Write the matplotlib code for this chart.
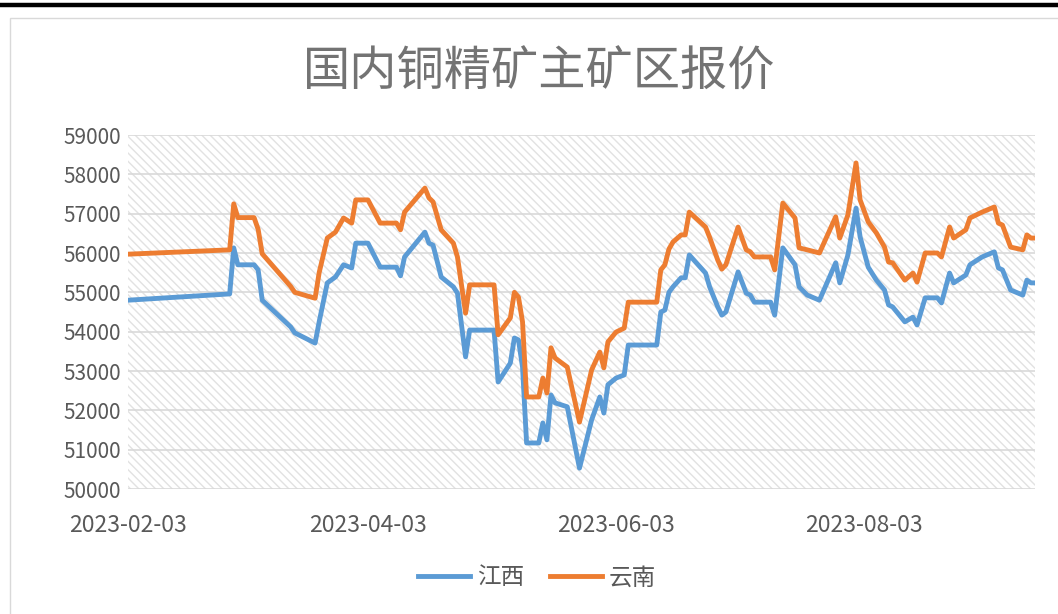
import matplotlib
matplotlib.use("Agg")
import matplotlib.pyplot as plt
import matplotlib.dates as mdates
import pandas as pd
from matplotlib.lines import Line2D
from matplotlib.patches import Rectangle

plt.rcParams['font.family'] = ['Noto Sans CJK SC', 'DejaVu Sans']
plt.rcParams['hatch.linewidth'] = 1.0

dates = ["2023-02-03", "2023-02-28", "2023-03-01", "2023-03-02", "2023-03-06", "2023-03-07",
         "2023-03-08", "2023-03-15", "2023-03-16", "2023-03-21", "2023-03-22", "2023-03-24",
         "2023-03-26", "2023-03-28", "2023-03-30", "2023-03-31", "2023-04-03", "2023-04-06",
         "2023-04-10", "2023-04-11", "2023-04-12", "2023-04-17", "2023-04-18", "2023-04-19",
         "2023-04-21", "2023-04-24", "2023-04-25", "2023-04-27", "2023-04-28", "2023-05-04",
         "2023-05-05", "2023-05-08", "2023-05-09", "2023-05-10", "2023-05-11", "2023-05-12",
         "2023-05-15", "2023-05-16", "2023-05-17", "2023-05-18", "2023-05-19", "2023-05-22",
         "2023-05-25", "2023-05-28", "2023-05-30", "2023-05-31", "2023-06-01", "2023-06-03",
         "2023-06-05", "2023-06-06", "2023-06-13", "2023-06-14", "2023-06-15", "2023-06-16",
         "2023-06-17", "2023-06-19", "2023-06-20", "2023-06-21", "2023-06-25", "2023-06-26",
         "2023-06-28", "2023-06-29", "2023-06-30", "2023-07-03", "2023-07-05", "2023-07-06",
         "2023-07-07", "2023-07-11", "2023-07-12", "2023-07-14", "2023-07-17", "2023-07-18",
         "2023-07-20", "2023-07-23", "2023-07-27", "2023-07-28", "2023-07-30", "2023-08-01",
         "2023-08-02", "2023-08-04", "2023-08-06", "2023-08-08", "2023-08-09", "2023-08-10",
         "2023-08-13", "2023-08-15", "2023-08-16", "2023-08-18", "2023-08-21", "2023-08-22",
         "2023-08-24", "2023-08-25", "2023-08-28", "2023-08-29", "2023-09-01", "2023-09-04",
         "2023-09-05", "2023-09-06", "2023-09-08", "2023-09-11", "2023-09-12", "2023-09-13",
         "2023-09-14"]

jiangxi = [54800, 54960, 56130, 55700, 55700, 55570, 54800, 54120, 53970, 53710, 54250, 55240,
           55390, 55700, 55620, 56250, 56250, 55640, 55640, 55420, 55900, 56530, 56250, 56200,
           55390, 55140, 54980, 53360, 54040, 54040, 52720, 53200, 53840, 53790, 53100, 51170,
           51170, 51680, 51250, 52390, 52190, 52090, 50530, 51760, 52340, 51930, 52650, 52820,
           52900, 53660, 53660, 54500, 54550, 55000, 55140, 55370, 55370, 55950, 55490, 55140,
           54630, 54420, 54500, 55520, 54980, 54930, 54750, 54750, 54420, 56130, 55700, 55140,
           54930, 54800, 55750, 55240, 55950, 57140, 56410, 55640, 55310, 55060, 54680, 54630,
           54250, 54370, 54170, 54860, 54860, 54730, 55490, 55240, 55440, 55700, 55900, 56030,
           55620, 55570, 55060, 54930, 55310, 55240, 55240]

yunnan = [55970, 56080, 57250, 56900, 56900, 56600, 55980, 55150, 55000, 54850, 55500, 56380,
          56530, 56890, 56760, 57350, 57350, 56760, 56760, 56590, 57040, 57650, 57400, 57300,
          56590, 56250, 55900, 54470, 55190, 55190, 53920, 54350, 55000, 54880, 54250, 52340,
          52340, 52820, 52440, 53590, 53330, 53100, 51700, 53030, 53480, 53080, 53740, 53990,
          54090, 54750, 54750, 55570, 55700, 56100, 56280, 56460, 56460, 57040, 56660, 56400,
          55820, 55590, 55700, 56660, 56080, 56030, 55900, 55900, 55570, 57270, 56890, 56130,
          56080, 56000, 56920, 56380, 56970, 58290, 57350, 56790, 56510, 56150, 55770, 55750,
          55310, 55490, 55260, 56000, 56000, 55900, 56660, 56380, 56590, 56890, 57040, 57170,
          56760, 56710, 56150, 56080, 56460, 56380, 56380]

tick_dates = ["2023-02-03", "2023-04-03", "2023-06-03", "2023-08-03"]

x = pd.to_datetime(dates)
W, H = 1058, 614
fig = plt.figure(figsize=(W / 100, H / 100), dpi=100)

# black rule at the very top and the light chart frame
fig.add_artist(Line2D([0, 1], [1 - 5 / H, 1 - 5 / H], color='black', lw=3.2))
fig.add_artist(Rectangle((10 / W, -0.05), 1.1, 1 - 18 / H + 0.05, transform=fig.transFigure,
                         facecolor='none', edgecolor='#d9d9d9', lw=1.0))

ax = fig.add_axes([128 / W, 1 - 489 / H, (1035 - 128) / W, (489 - 135) / H])
ax.add_patch(Rectangle((0, 0), 1, 1, transform=ax.transAxes, facecolor='white',
                       edgecolor='#e2e2e2', hatch='\\\\\\\\', lw=0, zorder=0))

blue = '#5B9BD5'
orange = '#ED7D31'
ax.plot(x, jiangxi, color=blue, lw=3.5, solid_joinstyle='round', label='江西', zorder=3)
ax.plot(x, yunnan, color=orange, lw=3.5, solid_joinstyle='round', label='云南', zorder=3)

ax.set_ylim(50000, 59000)
ax.set_yticks(range(50000, 59001, 1000))
ax.set_xlim(pd.Timestamp("2023-02-03"), pd.Timestamp("2023-09-14"))
ax.set_xticks(pd.to_datetime(tick_dates))
ax.xaxis.set_major_formatter(mdates.DateFormatter('%Y-%m-%d'))
ax.grid(axis='y', color='#d9d9d9', lw=1.2, zorder=1)
ax.set_axisbelow(True)
for s in ax.spines.values():
    s.set_visible(False)
ax.tick_params(axis='both', length=0, colors='#595959')
ax.tick_params(axis='x', pad=18, labelsize=16.5)
ax.tick_params(axis='y', pad=5, labelsize=15)

fig.text(539 / W, 1 - 72 / H, '国内铜精矿主矿区报价', ha='center', va='center',
         fontsize=34, color='#737373')

fig.legend(loc='center', bbox_to_anchor=(537 / W, 1 - 578 / H), ncol=2, frameon=False,
           fontsize=17, labelcolor='#595959', handlelength=2.2, handletextpad=0.3,
           columnspacing=1.1)

fig.savefig('out.png', dpi=100)
